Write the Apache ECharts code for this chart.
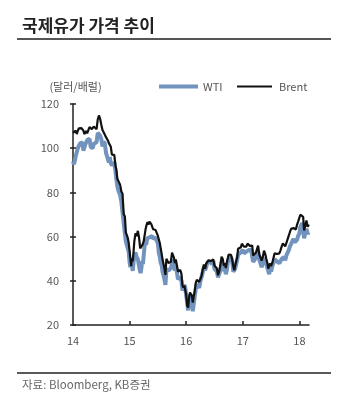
<!DOCTYPE html>
<html>
<head>
<meta charset="utf-8">
<script src="https://cdn.jsdelivr.net/npm/echarts@6/dist/echarts.min.js"></script>
<style>
  html, body { margin: 0; padding: 0; background: #fff; }
  #chart { width: 350px; height: 401px; }
</style>
</head>
<body>
<div id="chart"></div>
<script>
// Weekly closes (USD/bbl), grouped by month: Jan..Dec of each year.
const brent2014 = [
  [107.0,107.2,106.4,107.9,106.4],[107.8,109.0,109.6,109.1],[109.0,108.0,106.4,106.9,107.8],
  [106.7,107.3,109.5,109.6],[108.6,107.9,109.8,110.5,109.4],[108.6,113.0,114.8,113.3],
  [110.6,108.2,107.2,107.4],[105.0,105.0,103.5,102.3,102.8],[100.8,97.1,98.0,97.0],
  [92.3,90.2,86.2,86.1,85.9],[83.4,80.4,79.4,70.2],[69.1,61.9,61.4,59.5,57.3]
];
const brent2015 = [
  [56.4,50.1,46.6,50.2,48.8,53.0],[57.8,61.5,60.2,62.6],[59.7,54.7,55.3,56.4],
  [57.9,57.9,63.5,65.3,66.5],[65.4,66.8,66.8,65.6,65.6],[63.3,63.9,63.0,63.3],
  [60.3,58.7,57.1,54.6,52.2],[49.5,49.2,45.5,42.7,50.0],[49.6,48.1,47.5,48.6],
  [52.7,52.7,50.5,48.0,49.6],[47.4,44.2,44.7,44.9],[43.0,37.9,36.9,37.9,37.3]
];
const brent2016 = [
  [33.8,28.9,27.9,32.2,34.7],[34.1,33.4,30.1,33.0,35.1],[38.7,40.4,41.2,39.5],
  [38.7,42.1,45.1,47.4],[45.4,47.8,48.7,49.3],[49.6,48.9,49.2,49.7],
  [46.8,47.6,45.7,42.5],[44.3,47.0,50.9,49.9],[46.8,48.0,45.8,48.2,49.1],
  [51.9,52.0,51.8,49.7],[46.4,44.8,46.9,47.2,50.5],[54.5,55.3,55.2,55.2,56.8]
];
const brent2017 = [
  [57.1,55.5,55.5,55.5],[56.8,56.7,55.8,56.0],[55.9,51.4,51.8,50.8,52.8],
  [54.2,55.9,52.0,51.7],[49.1,50.8,53.6,52.2],[49.9,48.2,45.5,45.5,47.9],
  [46.7,48.1,48.1,52.5],[52.4,52.1,52.7,52.4],[53.8,55.6,56.9,57.5],
  [55.6,57.2,57.8,60.4],[62.1,63.5,62.7,63.9],[63.4,63.2,65.3,66.9]
];
const brent2018 = [
  [67.6,69.9,69.2,70.5,68.9],[62.8,64.8,67.3,64.4],[65.5]
];

const wti2014 = [
  [94.0,92.7,94.4,96.6,97.5],[99.9,100.3,102.2,102.6],[102.6,98.9,99.5,101.7,101.6],
  [103.6,104.3,104.3,100.6],[99.8,100.0,102.0,102.6,102.7],[102.7,106.9,107.3,105.7],
  [104.1,100.8,103.1,102.1],[97.9,97.7,97.4,93.6,96.0],[93.3,92.3,92.4,93.5],
  [89.7,85.8,82.8,81.0,80.5],[78.7,75.8,76.5,66.2],[65.8,57.8,57.1,54.7,53.3]
];
const wti2015 = [
  [48.4,46.1,48.7,46.9,44.5,48.2],[51.7,52.8,50.8,49.8],[49.6,44.8,43.5,45.7,48.9,47.6],
  [51.6,57.4,56.3,59.2],[59.0,59.7,59.9,60.3],[59.1,60.0,59.6,59.5],
  [56.9,52.7,50.9,48.1,47.1],[43.9,42.5,40.5,38.2,45.2],[46.1,44.6,44.7,45.7],
  [45.5,49.6,47.3,44.6,46.6],[44.3,40.7,40.4,41.7],[40.0,35.6,34.7,38.1,37.0]
];
const wti2016 = [
  [33.2,30.4,26.6,32.2,33.6],[30.9,29.4,26.2,29.4,32.8],[35.9,38.5,39.4,36.8],
  [39.7,40.4,43.7,45.9],[44.7,46.2,48.4,49.3],[48.6,48.9,47.6,49.0],
  [45.4,46.0,44.2,41.6],[41.8,44.5,48.5,47.6],[44.4,45.9,43.0,44.5,48.2],
  [49.8,50.4,50.9,48.7],[44.1,43.4,45.7,46.1,49.4],[51.7,51.5,51.9,53.0,53.7]
];
const wti2017 = [
  [54.0,52.4,53.2,53.2],[53.8,53.9,53.4,54.0],[53.3,48.5,48.8,48.0,50.6],
  [52.2,53.2,49.6,49.3],[46.2,47.8,50.3,49.8],[47.7,45.8,44.7,43.0,46.0],
  [44.2,46.5,45.8,49.7],[49.6,48.8,48.5,47.9],[47.3,49.9,50.7,50.7],
  [49.3,51.5,51.5,53.9],[55.6,56.7,56.6,59.0],[57.4,57.3,58.5,60.4]
];
const wti2018 = [
  [61.4,64.3,63.4,66.1,65.8],[59.2,61.7,63.6,61.3],[62.0]
];

const yearLabels = [14, 15, 16, 17, 18];
const yTicks = { min: 20, max: 120, step: 20 };
const xEnd = 18.17;

// Turn [year][month][week] groups into [fractional year, price] pairs.
function toPoints(years) {
  const pts = [];
  years.forEach((months, yi) => {
    months.forEach((weeks, mi) => {
      weeks.forEach((v, wi) => {
        pts.push([14 + yi + (mi + wi / weeks.length) / 12, v]);
      });
    });
  });
  return pts;
}

const wtiData = toPoints([wti2014, wti2015, wti2016, wti2017, wti2018]);
const brentData = toPoints([brent2014, brent2015, brent2016, brent2017, brent2018]);

const FONT = '"Noto Sans CJK KR", "Noto Sans", sans-serif';
const AXIS_COLOR = '#222';
const LABEL_COLOR = '#555';

const chart = echarts.init(document.getElementById('chart'), null, { renderer: 'canvas' });

const yBase = {
  type: 'value', min: yTicks.min, max: yTicks.max, interval: yTicks.step,
  position: 'left', splitLine: { show: false }
};

chart.setOption({
  animation: false,
  backgroundColor: '#fff',
  textStyle: { fontFamily: FONT },
  title: [
    {
      text: '국제유가 가격 추이', left: 17, top: 12,
      textStyle: { fontFamily: FONT, fontSize: 17, fontWeight: 'bold', color: '#222' }
    },
    {
      text: '자료: Bloomberg, KB증권', left: 17, top: 374,
      textStyle: { fontFamily: FONT, fontSize: 11.5, fontWeight: 'normal', color: '#666' }
    }
  ],
  graphic: [
    { type: 'line', shape: { x1: 17, y1: 39, x2: 331, y2: 39 }, style: { stroke: '#555', lineWidth: 2 } },
    { type: 'line', shape: { x1: 17, y1: 373, x2: 331, y2: 373 }, style: { stroke: '#222', lineWidth: 1.5 } }
  ],
  legend: [
    {
      data: ['WTI'], left: 154, top: 76, icon: 'rect', itemWidth: 39, itemHeight: 4,
      textStyle: { fontFamily: FONT, fontSize: 11, color: LABEL_COLOR }
    },
    {
      data: ['Brent'], left: 232, top: 76, icon: 'rect', itemWidth: 35, itemHeight: 2,
      textStyle: { fontFamily: FONT, fontSize: 11, color: LABEL_COLOR, padding: [0, 0, 0, 2] }
    }
  ],
  grid: { left: 73, right: 350 - 309, top: 104, bottom: 401 - 325 },
  xAxis: {
    type: 'value', min: 14, max: xEnd,
    splitLine: { show: false },
    axisLine: { lineStyle: { color: AXIS_COLOR, width: 1.5 } },
    axisTick: { inside: true, length: 4, customValues: [15, 16, 17, 18], lineStyle: { color: AXIS_COLOR, width: 1.5 } },
    axisLabel: {
      customValues: yearLabels, margin: 10, fontSize: 11, color: LABEL_COLOR, fontFamily: FONT,
      formatter: v => String(v)
    }
  },
  yAxis: [
    Object.assign({}, yBase, {
      name: '(달러/배럴)', nameLocation: 'end', nameGap: 12,
      nameTextStyle: { fontFamily: FONT, fontSize: 11, color: LABEL_COLOR, padding: [0, 0, 0, 5] },
      axisLine: { show: true, lineStyle: { color: AXIS_COLOR, width: 1.5 } },
      axisTick: { show: true, length: 3, lineStyle: { color: AXIS_COLOR, width: 1.5 } },
      axisLabel: { margin: 14, fontSize: 11, color: LABEL_COLOR, fontFamily: FONT }
    }),
    Object.assign({}, yBase, {
      axisLine: { show: false },
      axisTick: { show: true, inside: true, length: 3, lineStyle: { color: AXIS_COLOR, width: 1.5 } },
      axisLabel: { show: false }
    })
  ],
  series: [
    {
      name: 'WTI', type: 'line', data: wtiData, showSymbol: false, silent: true,
      color: '#7193bd', lineStyle: { width: 4, color: '#7193bd' }
    },
    {
      name: 'Brent', type: 'line', data: brentData, showSymbol: false, silent: true,
      color: '#111', lineStyle: { width: 2.2, color: '#111' }
    }
  ]
});
</script>
</body>
</html>
